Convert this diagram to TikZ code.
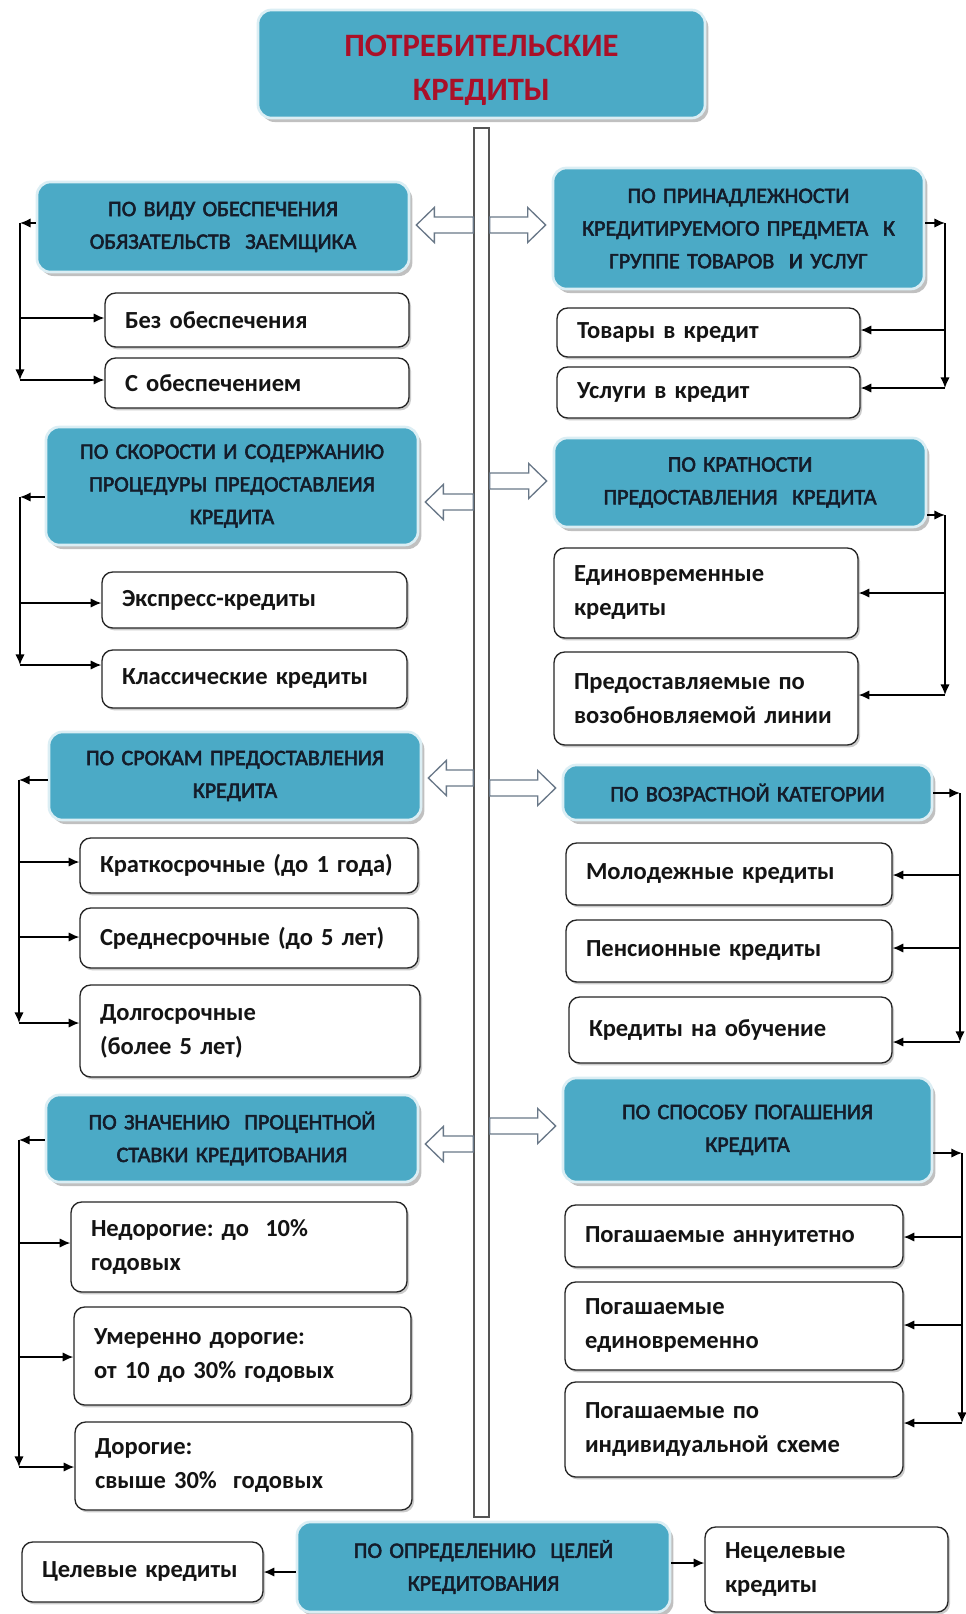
\documentclass[tikz,border=0pt]{standalone}
\usepackage{fontspec}
\setmainfont{Carlito}
\newfontfamily\catfont{Carlito}[FakeBold=2.5]
\usetikzlibrary{shadows,arrows.meta,calc}
\definecolor{tealbox}{RGB}{75,170,198}
\definecolor{catText}{RGB}{20,28,42}
\definecolor{titleRed}{RGB}{170,16,40}
\definecolor{harrowC}{RGB}{105,120,136}
\definecolor{barC}{RGB}{85,85,85}
\tikzset{
 cat/.style={rounded corners=10pt, fill=tealbox, draw=white!80!tealbox, line width=2pt,
   drop shadow={shadow xshift=2.5pt, shadow yshift=-3pt, fill=black!35, opacity=0.7},
   text=catText, align=center, inner xsep=15pt, inner ysep=0pt,
   font=\catfont\fontsize{16.5}{24.5}\selectfont},
 ttl/.style={cat, text=titleRed, font=\fontsize{24.5}{32.5}\selectfont\bfseries},
 sub/.style={rounded corners=8pt, fill=white, draw=black!85, line width=1pt,
   drop shadow={shadow xshift=1.5pt, shadow yshift=-1.8pt, fill=black!25, opacity=0.8},
   align=left, inner xsep=15pt, inner ysep=0pt, text=black!92,
   font=\fontsize{18.4}{25.5}\selectfont\bfseries},
 conn/.style={line width=1.1pt, -{Latex[length=8pt,width=7pt]}},
 harrow/.style={draw=harrowC, fill=white, line width=1pt, line join=miter},
}
\newcommand\mkbox[7]{%
 \pgfmathsetmacro\bxCX{(#3+#5)/2}%
 \pgfmathsetmacro\bxCY{(#4+#6)/2}%
 \pgfmathsetmacro\bxW{(#5-#3)*0.75}%
 \pgfmathsetmacro\bxH{(#6-#4)*0.75}%
 \pgfmathsetmacro\bxTW{(#5-#3)*0.75-30}%
 \node[#2, minimum width=\bxW pt, minimum height=\bxH pt, text width=\bxTW pt] (#1) at (\bxCX,\bxCY) {#7};}
\newcommand\hollowLeft[2]{%
 \draw[harrow] let \p1=(#1), \p2=(#2) in (\p1) -- (\x1+13.5pt,\y1+13.125pt) -- (\x1+13.5pt,\y1+6pt) -- (\x2,\y1+6pt) -- (\x2,\y1-6pt) -- (\x1+13.5pt,\y1-6pt) -- (\x1+13.5pt,\y1-13.125pt) -- cycle;}
\newcommand\hollowRight[2]{%
 \draw[harrow] let \p1=(#1), \p2=(#2) in (\p1) -- (\x1-13.5pt,\y1+13.125pt) -- (\x1-13.5pt,\y1+6pt) -- (\x2,\y1+6pt) -- (\x2,\y1-6pt) -- (\x1-13.5pt,\y1-6pt) -- (\x1-13.5pt,\y1-13.125pt) -- cycle;}
\begin{document}
\begin{tikzpicture}[x=0.75pt,y=-0.75pt]
\fill[white] (0,0) rectangle (965,1614);
\useasboundingbox (0,0) rectangle (965,1614);

% central bar
\node[draw=barC, fill=white, line width=1pt, minimum width=11.25pt, minimum height=1041.75pt, inner sep=0pt] (bar) at (481.5,822.5) {};

% title and categories
\mkbox{T}{ttl}{258}{10}{705}{118}{\\[-7pt]ПОТРЕБИТЕЛЬСКИЕ\\КРЕДИТЫ}
\mkbox{L1}{cat}{37}{182}{409}{272}{ПО~ВИДУ~ОБЕСПЕЧЕНИЯ\\ОБЯЗАТЕЛЬСТВ~~ЗАЕМЩИКА}
\mkbox{R1}{cat}{553}{168}{924}{289}{ПО~ПРИНАДЛЕЖНОСТИ\\КРЕДИТИРУЕМОГО~ПРЕДМЕТА~~К\\ГРУППЕ~ТОВАРОВ~~И~УСЛУГ}
\mkbox{L2}{cat}{46}{427}{418}{545}{ПО~СКОРОСТИ~И~СОДЕРЖАНИЮ\\ПРОЦЕДУРЫ~ПРЕДОСТАВЛЕИЯ\\КРЕДИТА}
\mkbox{R2}{cat}{554}{438}{926}{527}{ПО~КРАТНОСТИ\\ПРЕДОСТАВЛЕНИЯ~~КРЕДИТА}
\mkbox{L3}{cat}{49}{732}{421}{820}{ПО~СРОКАМ~ПРЕДОСТАВЛЕНИЯ\\КРЕДИТА}
\mkbox{R3}{cat}{563}{765}{932}{820}{ПО~ВОЗРАСТНОЙ~КАТЕГОРИИ}
\mkbox{L4}{cat}{46}{1095}{418}{1182}{ПО~ЗНАЧЕНИЮ~~ПРОЦЕНТНОЙ\\СТАВКИ~КРЕДИТОВАНИЯ}
\mkbox{R4}{cat}{563}{1078}{932}{1182}{ПО~СПОСОБУ~ПОГАШЕНИЯ\\КРЕДИТА\\[6pt]}
\mkbox{B}{cat}{297}{1522}{670}{1612}{ПО~ОПРЕДЕЛЕНИЮ~~ЦЕЛЕЙ\\КРЕДИТОВАНИЯ}

% sub boxes
\mkbox{l11}{sub}{105}{293}{409}{347}{Без~обеспечения}
\mkbox{l12}{sub}{105}{358}{409}{408}{С~обеспечением}
\mkbox{r11}{sub}{557}{308}{860}{357}{Товары~в~кредит}
\mkbox{r12}{sub}{557}{367}{860}{418}{Услуги~в~кредит}
\mkbox{l21}{sub}{102}{572}{407}{628}{Экспресс-кредиты}
\mkbox{l22}{sub}{102}{650}{407}{708}{Классические~кредиты}
\mkbox{r21}{sub}{554}{548}{858}{638}{Единовременные\\кредиты}
\mkbox{r22}{sub}{554}{652}{858}{745}{Предоставляемые~по\\возобновляемой~линии}
\mkbox{l31}{sub}{80}{838}{418}{893}{Краткосрочные~(до~1~года)}
\mkbox{l32}{sub}{80}{908}{418}{968}{Среднесрочные~(до~5~лет)}
\mkbox{l33}{sub}{80}{985}{420}{1077}{Долгосрочные\\(более~5~лет)}
\mkbox{r31}{sub}{566}{843}{892}{905}{Молодежные~кредиты}
\mkbox{r32}{sub}{566}{920}{892}{982}{Пенсионные~кредиты}
\mkbox{r33}{sub}{569}{997}{892}{1063}{Кредиты~на~обучение}
\mkbox{l41}{sub}{71}{1202}{407}{1292}{Недорогие:~до~~10\%\\годовых}
\mkbox{l42}{sub}{74}{1307}{411}{1405}{Умеренно~дорогие:\\от~10~до~30\%~годовых}
\mkbox{l43}{sub}{75}{1422}{412}{1510}{Дорогие:\\свыше~30\%~~годовых}
\mkbox{r41}{sub}{565}{1205}{903}{1267}{Погашаемые~аннуитетно}
\mkbox{r42}{sub}{565}{1282}{903}{1370}{Погашаемые\\единовременно}
\mkbox{r43}{sub}{565}{1382}{903}{1477}{Погашаемые~по\\индивидуальной~схеме}
\mkbox{bl}{sub}{22}{1542}{263}{1602}{Целевые~кредиты}
\mkbox{br}{sub}{705}{1527}{948}{1612}{Нецелевые\\кредиты}

% hollow arrows from the central bar
\coordinate (y1l) at (0,225); \coordinate (y1r) at (0,225);
\coordinate (y2l) at (0,502); \coordinate (y2r) at (0,481);
\coordinate (y3l) at (0,778); \coordinate (y3r) at (0,788);
\coordinate (y4l) at (0,1144); \coordinate (y4r) at (0,1126);
\foreach \i in {1,2,3,4}{
 \coordinate (hl\i) at ($(L\i.east |- y\i l)+(6,0)$);
 \coordinate (hr\i) at ($(R\i.west |- y\i r)+(-6,0)$);
 \hollowLeft{hl\i}{bar.west |- y\i l}
 \hollowRight{hr\i}{bar.east |- y\i r}
}

% group 1 left
\coordinate (g1t) at (20,223); \coordinate (g1b) at (20,380);
\coordinate (b11) at (20,318);
\draw[conn] (L1.west |- g1t) -- (g1t);
\draw[conn] (g1t) -- (g1b);
\draw[conn] (b11) -- (b11 -| l11.west);
\draw[conn] (g1b) -- (g1b -| l12.west);
% group 1 right
\coordinate (h1t) at (945,223); \coordinate (h1b) at (945,388);
\coordinate (c11) at (945,330);
\draw[conn] (R1.east |- h1t) -- (h1t);
\draw[conn] (h1t) -- (h1b);
\draw[conn] (c11) -- (c11 -| r11.east);
\draw[conn] (h1b) -- (h1b -| r12.east);

% group 2 left
\coordinate (g2t) at (20,497); \coordinate (g2b) at (20,665);
\coordinate (b21) at (20,603);
\draw[conn] (L2.west |- g2t) -- (g2t);
\draw[conn] (g2t) -- (g2b);
\draw[conn] (b21) -- (b21 -| l21.west);
\draw[conn] (g2b) -- (g2b -| l22.west);
% group 2 right
\coordinate (h2t) at (945,515); \coordinate (h2b) at (945,695);
\coordinate (c21) at (945,593);
\draw[conn] (R2.east |- h2t) -- (h2t);
\draw[conn] (h2t) -- (h2b);
\draw[conn] (c21) -- (c21 -| r21.east);
\draw[conn] (h2b) -- (h2b -| r22.east);

% group 3 left
\coordinate (g3t) at (19,780); \coordinate (g3b) at (19,1023);
\coordinate (b31) at (19,862); \coordinate (b32) at (19,937);
\draw[conn] (L3.west |- g3t) -- (g3t);
\draw[conn] (g3t) -- (g3b);
\draw[conn] (b31) -- (b31 -| l31.west);
\draw[conn] (b32) -- (b32 -| l32.west);
\draw[conn] (g3b) -- (g3b -| l33.west);
% group 3 right
\coordinate (h3t) at (960,793); \coordinate (h3b) at (960,1042);
\coordinate (c31) at (960,875); \coordinate (c32) at (960,948);
\draw[conn] (R3.east |- h3t) -- (h3t);
\draw[conn] (h3t) -- (h3b);
\draw[conn] (c31) -- (c31 -| r31.east);
\draw[conn] (c32) -- (c32 -| r32.east);
\draw[conn] (h3b) -- (h3b -| r33.east);

% group 4 left
\coordinate (g4t) at (19,1140); \coordinate (g4b) at (19,1467);
\coordinate (b41) at (19,1243); \coordinate (b42) at (19,1357);
\draw[conn] (L4.west |- g4t) -- (g4t);
\draw[conn] (g4t) -- (g4b);
\draw[conn] (b41) -- (b41 -| l41.west);
\draw[conn] (b42) -- (b42 -| l42.west);
\draw[conn] (g4b) -- (g4b -| l43.west);
% group 4 right
\coordinate (h4t) at (962,1153); \coordinate (h4b) at (962,1423);
\coordinate (c41) at (962,1237); \coordinate (c42) at (962,1325);
\draw[conn] (R4.east |- h4t) -- (h4t);
\draw[conn] (h4t) -- (h4b);
\draw[conn] (c41) -- (c41 -| r41.east);
\draw[conn] (c42) -- (c42 -| r42.east);
\draw[conn] (h4b) -- (h4b -| r43.east);

% bottom
\coordinate (bb1) at (0,1572); \coordinate (bb2) at (0,1563);
\draw[conn] (B.west |- bb1) -- (bl.east |- bb1);
\draw[conn] (B.east |- bb2) -- (br.west |- bb2);
\end{tikzpicture}
\end{document}
